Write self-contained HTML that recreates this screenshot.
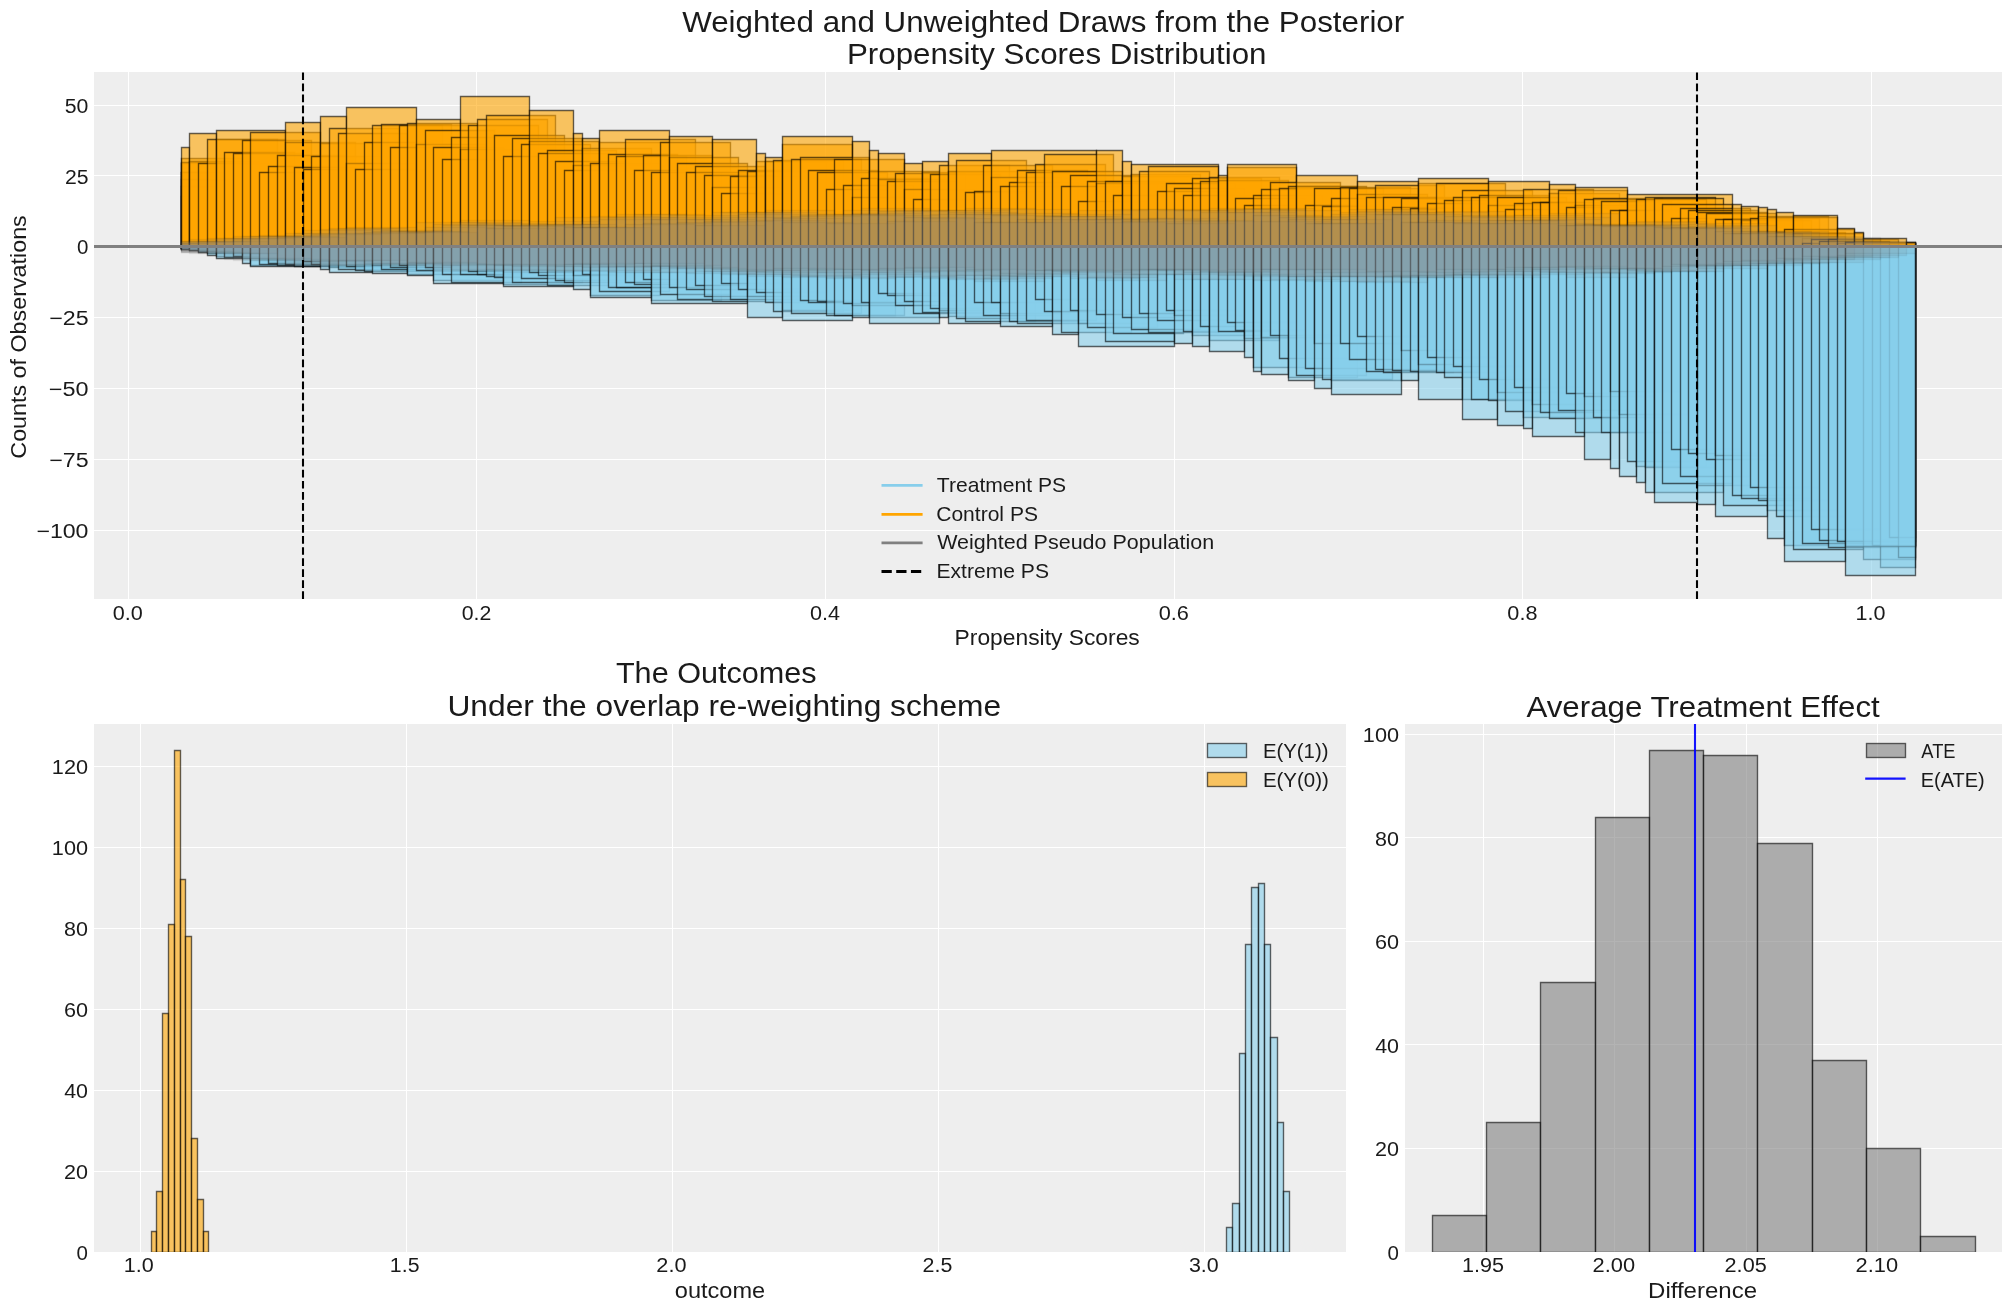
<!DOCTYPE html><html><head><meta charset="utf-8"><title>plot</title><style>html,body{margin:0;padding:0;background:#fff;overflow:hidden}svg{display:block;will-change:transform}text{font-family:"Liberation Sans",sans-serif;fill:#1a1a1a}</style></head><body>
<svg width="2011" height="1311" viewBox="0 0 2011 1311">
<rect width="2011" height="1311" fill="#fff"/>
<rect x="94" y="72" width="1908" height="527" fill="#eeeeee"/>
<path d="M128.5 72V599M476.5 72V599M825.5 72V599M1174.5 72V599M1522.5 72V599M1871.5 72V599M94 105.5H2002M94 175.5H2002M94 246.5H2002M94 317.5H2002M94 388.5H2002M94 459.5H2002M94 530.5H2002" stroke="#fff" stroke-width="1.1" fill="none"/>
<clipPath id="ct"><rect x="94" y="72" width="1908" height="527"/></clipPath>
<g clip-path="url(#ct)" stroke="#000" stroke-width="1.39">
<g fill="#87ceeb" fill-opacity="0.6" stroke-opacity="0.6">
<path d="M181.5 246.5H189.5V248.5H181.5Z"/>
<path d="M181.5 246.5H198.5V248.5H181.5Z"/>
<path d="M181.5 246.5H207.5V248.5H181.5Z"/>
<path d="M181.5 246.5H216.5V248.5H181.5Z"/>
<path d="M181.5 246.5H224.5V248.5H181.5Z"/>
<path d="M181.5 246.5H233.5V249.5H181.5Z"/>
<path d="M181.5 246.5H242.5V248.5H181.5Z"/>
<path d="M181.5 246.5H250.5V248.5H181.5Z"/>
<path d="M181.5 246.5H189.5V249.5H181.5Z"/>
<path d="M189.5 246.5H259.5V250.5H189.5Z"/>
<path d="M189.5 246.5H198.5V250.5H189.5Z"/>
<path d="M198.5 246.5H268.5V251.5H198.5Z"/>
<path d="M198.5 246.5H207.5V252.5H198.5Z"/>
<path d="M207.5 246.5H277.5V253.5H207.5Z"/>
<path d="M207.5 246.5H216.5V255.5H207.5Z"/>
<path d="M216.5 246.5H285.5V256.5H216.5Z"/>
<path d="M216.5 246.5H242.5V258.5H216.5Z"/>
<path d="M224.5 246.5H294.5V257.5H224.5Z"/>
<path d="M233.5 246.5H303.5V256.5H233.5Z"/>
<path d="M242.5 246.5H311.5V258.5H242.5Z"/>
<path d="M242.5 246.5H250.5V263.5H242.5Z"/>
<path d="M250.5 246.5H320.5V265.5H250.5Z"/>
<path d="M250.5 246.5H320.5V266.5H250.5Z"/>
<path d="M259.5 246.5H329.5V264.5H259.5Z"/>
<path d="M268.5 246.5H338.5V263.5H268.5Z"/>
<path d="M277.5 246.5H346.5V265.5H277.5Z"/>
<path d="M285.5 246.5H355.5V264.5H285.5Z"/>
<path d="M294.5 246.5H364.5V266.5H294.5Z"/>
<path d="M303.5 246.5H372.5V261.5H303.5Z"/>
<path d="M311.5 246.5H381.5V264.5H311.5Z"/>
<path d="M320.5 246.5H390.5V266.5H320.5Z"/>
<path d="M320.5 246.5H329.5V269.5H320.5Z"/>
<path d="M329.5 246.5H399.5V267.5H329.5Z"/>
<path d="M329.5 246.5H372.5V272.5H329.5Z"/>
<path d="M338.5 246.5H407.5V269.5H338.5Z"/>
<path d="M346.5 246.5H416.5V266.5H346.5Z"/>
<path d="M355.5 246.5H425.5V270.5H355.5Z"/>
<path d="M364.5 246.5H433.5V271.5H364.5Z"/>
<path d="M372.5 246.5H442.5V265.5H372.5Z"/>
<path d="M372.5 246.5H407.5V273.5H372.5Z"/>
<path d="M381.5 246.5H451.5V269.5H381.5Z"/>
<path d="M390.5 246.5H460.5V267.5H390.5Z"/>
<path d="M399.5 246.5H468.5V265.5H399.5Z"/>
<path d="M407.5 246.5H477.5V274.5H407.5Z"/>
<path d="M407.5 246.5H433.5V275.5H407.5Z"/>
<path d="M416.5 246.5H486.5V270.5H416.5Z"/>
<path d="M425.5 246.5H494.5V267.5H425.5Z"/>
<path d="M433.5 246.5H503.5V280.5H433.5Z"/>
<path d="M433.5 246.5H503.5V283.5H433.5Z"/>
<path d="M442.5 246.5H512.5V274.5H442.5Z"/>
<path d="M451.5 246.5H521.5V282.5H451.5Z"/>
<path d="M460.5 246.5H529.5V274.5H460.5Z"/>
<path d="M468.5 246.5H538.5V271.5H468.5Z"/>
<path d="M477.5 246.5H547.5V274.5H477.5Z"/>
<path d="M486.5 246.5H555.5V276.5H486.5Z"/>
<path d="M494.5 246.5H564.5V277.5H494.5Z"/>
<path d="M503.5 246.5H573.5V284.5H503.5Z"/>
<path d="M503.5 246.5H573.5V286.5H503.5Z"/>
<path d="M512.5 246.5H582.5V282.5H512.5Z"/>
<path d="M521.5 246.5H590.5V278.5H521.5Z"/>
<path d="M529.5 246.5H599.5V272.5H529.5Z"/>
<path d="M538.5 246.5H608.5V275.5H538.5Z"/>
<path d="M547.5 246.5H616.5V285.5H547.5Z"/>
<path d="M555.5 246.5H625.5V280.5H555.5Z"/>
<path d="M564.5 246.5H634.5V282.5H564.5Z"/>
<path d="M573.5 246.5H643.5V275.5H573.5Z"/>
<path d="M573.5 246.5H590.5V289.5H573.5Z"/>
<path d="M582.5 246.5H651.5V274.5H582.5Z"/>
<path d="M590.5 246.5H660.5V295.5H590.5Z"/>
<path d="M590.5 246.5H651.5V297.5H590.5Z"/>
<path d="M599.5 246.5H669.5V291.5H599.5Z"/>
<path d="M608.5 246.5H677.5V287.5H608.5Z"/>
<path d="M616.5 246.5H686.5V287.5H616.5Z"/>
<path d="M625.5 246.5H695.5V282.5H625.5Z"/>
<path d="M634.5 246.5H704.5V284.5H634.5Z"/>
<path d="M643.5 246.5H712.5V279.5H643.5Z"/>
<path d="M651.5 246.5H721.5V300.5H651.5Z"/>
<path d="M651.5 246.5H747.5V303.5H651.5Z"/>
<path d="M660.5 246.5H730.5V294.5H660.5Z"/>
<path d="M669.5 246.5H738.5V287.5H669.5Z"/>
<path d="M677.5 246.5H747.5V299.5H677.5Z"/>
<path d="M686.5 246.5H756.5V289.5H686.5Z"/>
<path d="M695.5 246.5H765.5V285.5H695.5Z"/>
<path d="M704.5 246.5H773.5V296.5H704.5Z"/>
<path d="M712.5 246.5H782.5V301.5H712.5Z"/>
<path d="M721.5 246.5H791.5V283.5H721.5Z"/>
<path d="M730.5 246.5H800.5V299.5H730.5Z"/>
<path d="M738.5 246.5H808.5V289.5H738.5Z"/>
<path d="M747.5 246.5H817.5V296.5H747.5Z"/>
<path d="M747.5 246.5H782.5V317.5H747.5Z"/>
<path d="M756.5 246.5H826.5V292.5H756.5Z"/>
<path d="M765.5 246.5H834.5V302.5H765.5Z"/>
<path d="M773.5 246.5H843.5V311.5H773.5Z"/>
<path d="M782.5 246.5H852.5V310.5H782.5Z"/>
<path d="M782.5 246.5H852.5V320.5H782.5Z"/>
<path d="M791.5 246.5H861.5V313.5H791.5Z"/>
<path d="M800.5 246.5H869.5V300.5H800.5Z"/>
<path d="M808.5 246.5H878.5V302.5H808.5Z"/>
<path d="M817.5 246.5H887.5V301.5H817.5Z"/>
<path d="M826.5 246.5H895.5V315.5H826.5Z"/>
<path d="M834.5 246.5H904.5V315.5H834.5Z"/>
<path d="M843.5 246.5H913.5V303.5H843.5Z"/>
<path d="M852.5 246.5H922.5V305.5H852.5Z"/>
<path d="M852.5 246.5H869.5V317.5H852.5Z"/>
<path d="M861.5 246.5H930.5V302.5H861.5Z"/>
<path d="M869.5 246.5H939.5V317.5H869.5Z"/>
<path d="M869.5 246.5H939.5V323.5H869.5Z"/>
<path d="M878.5 246.5H948.5V293.5H878.5Z"/>
<path d="M887.5 246.5H956.5V295.5H887.5Z"/>
<path d="M895.5 246.5H965.5V305.5H895.5Z"/>
<path d="M904.5 246.5H974.5V301.5H904.5Z"/>
<path d="M913.5 246.5H983.5V313.5H913.5Z"/>
<path d="M922.5 246.5H991.5V312.5H922.5Z"/>
<path d="M930.5 246.5H1000.5V308.5H930.5Z"/>
<path d="M939.5 246.5H1009.5V310.5H939.5Z"/>
<path d="M939.5 246.5H948.5V317.5H939.5Z"/>
<path d="M948.5 246.5H1017.5V316.5H948.5Z"/>
<path d="M948.5 246.5H1000.5V323.5H948.5Z"/>
<path d="M956.5 246.5H1026.5V318.5H956.5Z"/>
<path d="M965.5 246.5H1035.5V321.5H965.5Z"/>
<path d="M974.5 246.5H1044.5V302.5H974.5Z"/>
<path d="M983.5 246.5H1052.5V315.5H983.5Z"/>
<path d="M991.5 246.5H1061.5V302.5H991.5Z"/>
<path d="M1000.5 246.5H1070.5V313.5H1000.5Z"/>
<path d="M1000.5 246.5H1052.5V326.5H1000.5Z"/>
<path d="M1009.5 246.5H1078.5V321.5H1009.5Z"/>
<path d="M1017.5 246.5H1087.5V323.5H1017.5Z"/>
<path d="M1026.5 246.5H1096.5V320.5H1026.5Z"/>
<path d="M1035.5 246.5H1105.5V299.5H1035.5Z"/>
<path d="M1044.5 246.5H1113.5V311.5H1044.5Z"/>
<path d="M1052.5 246.5H1122.5V311.5H1052.5Z"/>
<path d="M1052.5 246.5H1078.5V334.5H1052.5Z"/>
<path d="M1061.5 246.5H1131.5V332.5H1061.5Z"/>
<path d="M1070.5 246.5H1139.5V310.5H1070.5Z"/>
<path d="M1078.5 246.5H1148.5V323.5H1078.5Z"/>
<path d="M1078.5 246.5H1174.5V346.5H1078.5Z"/>
<path d="M1087.5 246.5H1157.5V327.5H1087.5Z"/>
<path d="M1096.5 246.5H1166.5V314.5H1096.5Z"/>
<path d="M1105.5 246.5H1174.5V341.5H1105.5Z"/>
<path d="M1113.5 246.5H1183.5V333.5H1113.5Z"/>
<path d="M1122.5 246.5H1192.5V317.5H1122.5Z"/>
<path d="M1131.5 246.5H1200.5V329.5H1131.5Z"/>
<path d="M1139.5 246.5H1209.5V313.5H1139.5Z"/>
<path d="M1148.5 246.5H1218.5V332.5H1148.5Z"/>
<path d="M1157.5 246.5H1227.5V320.5H1157.5Z"/>
<path d="M1166.5 246.5H1235.5V310.5H1166.5Z"/>
<path d="M1174.5 246.5H1244.5V315.5H1174.5Z"/>
<path d="M1174.5 246.5H1192.5V343.5H1174.5Z"/>
<path d="M1183.5 246.5H1253.5V331.5H1183.5Z"/>
<path d="M1192.5 246.5H1261.5V335.5H1192.5Z"/>
<path d="M1192.5 246.5H1209.5V346.5H1192.5Z"/>
<path d="M1200.5 246.5H1270.5V326.5H1200.5Z"/>
<path d="M1209.5 246.5H1279.5V340.5H1209.5Z"/>
<path d="M1209.5 246.5H1244.5V351.5H1209.5Z"/>
<path d="M1218.5 246.5H1288.5V331.5H1218.5Z"/>
<path d="M1227.5 246.5H1296.5V322.5H1227.5Z"/>
<path d="M1235.5 246.5H1305.5V330.5H1235.5Z"/>
<path d="M1244.5 246.5H1314.5V338.5H1244.5Z"/>
<path d="M1244.5 246.5H1253.5V357.5H1244.5Z"/>
<path d="M1253.5 246.5H1322.5V367.5H1253.5Z"/>
<path d="M1253.5 246.5H1261.5V371.5H1253.5Z"/>
<path d="M1261.5 246.5H1331.5V337.5H1261.5Z"/>
<path d="M1261.5 246.5H1288.5V374.5H1261.5Z"/>
<path d="M1270.5 246.5H1340.5V335.5H1270.5Z"/>
<path d="M1279.5 246.5H1349.5V358.5H1279.5Z"/>
<path d="M1288.5 246.5H1357.5V377.5H1288.5Z"/>
<path d="M1288.5 246.5H1314.5V380.5H1288.5Z"/>
<path d="M1296.5 246.5H1366.5V375.5H1296.5Z"/>
<path d="M1305.5 246.5H1375.5V368.5H1305.5Z"/>
<path d="M1314.5 246.5H1383.5V343.5H1314.5Z"/>
<path d="M1314.5 246.5H1331.5V388.5H1314.5Z"/>
<path d="M1322.5 246.5H1392.5V379.5H1322.5Z"/>
<path d="M1331.5 246.5H1401.5V380.5H1331.5Z"/>
<path d="M1331.5 246.5H1401.5V394.5H1331.5Z"/>
<path d="M1340.5 246.5H1410.5V343.5H1340.5Z"/>
<path d="M1349.5 246.5H1418.5V359.5H1349.5Z"/>
<path d="M1357.5 246.5H1427.5V336.5H1357.5Z"/>
<path d="M1366.5 246.5H1436.5V371.5H1366.5Z"/>
<path d="M1375.5 246.5H1444.5V369.5H1375.5Z"/>
<path d="M1383.5 246.5H1453.5V372.5H1383.5Z"/>
<path d="M1392.5 246.5H1462.5V370.5H1392.5Z"/>
<path d="M1401.5 246.5H1471.5V350.5H1401.5Z"/>
<path d="M1401.5 246.5H1418.5V380.5H1401.5Z"/>
<path d="M1410.5 246.5H1479.5V371.5H1410.5Z"/>
<path d="M1418.5 246.5H1488.5V364.5H1418.5Z"/>
<path d="M1418.5 246.5H1462.5V399.5H1418.5Z"/>
<path d="M1427.5 246.5H1497.5V357.5H1427.5Z"/>
<path d="M1436.5 246.5H1505.5V372.5H1436.5Z"/>
<path d="M1444.5 246.5H1514.5V377.5H1444.5Z"/>
<path d="M1453.5 246.5H1523.5V366.5H1453.5Z"/>
<path d="M1462.5 246.5H1532.5V399.5H1462.5Z"/>
<path d="M1462.5 246.5H1497.5V419.5H1462.5Z"/>
<path d="M1471.5 246.5H1540.5V399.5H1471.5Z"/>
<path d="M1479.5 246.5H1549.5V379.5H1479.5Z"/>
<path d="M1488.5 246.5H1558.5V400.5H1488.5Z"/>
<path d="M1497.5 246.5H1566.5V392.5H1497.5Z"/>
<path d="M1497.5 246.5H1523.5V425.5H1497.5Z"/>
<path d="M1505.5 246.5H1575.5V411.5H1505.5Z"/>
<path d="M1514.5 246.5H1584.5V387.5H1514.5Z"/>
<path d="M1523.5 246.5H1593.5V417.5H1523.5Z"/>
<path d="M1523.5 246.5H1532.5V428.5H1523.5Z"/>
<path d="M1532.5 246.5H1601.5V404.5H1532.5Z"/>
<path d="M1532.5 246.5H1584.5V436.5H1532.5Z"/>
<path d="M1540.5 246.5H1610.5V412.5H1540.5Z"/>
<path d="M1549.5 246.5H1619.5V418.5H1549.5Z"/>
<path d="M1558.5 246.5H1627.5V410.5H1558.5Z"/>
<path d="M1566.5 246.5H1636.5V393.5H1566.5Z"/>
<path d="M1575.5 246.5H1645.5V432.5H1575.5Z"/>
<path d="M1584.5 246.5H1654.5V396.5H1584.5Z"/>
<path d="M1584.5 246.5H1610.5V459.5H1584.5Z"/>
<path d="M1593.5 246.5H1662.5V417.5H1593.5Z"/>
<path d="M1601.5 246.5H1671.5V432.5H1601.5Z"/>
<path d="M1610.5 246.5H1680.5V391.5H1610.5Z"/>
<path d="M1610.5 246.5H1619.5V468.5H1610.5Z"/>
<path d="M1619.5 246.5H1688.5V414.5H1619.5Z"/>
<path d="M1619.5 246.5H1636.5V476.5H1619.5Z"/>
<path d="M1627.5 246.5H1697.5V461.5H1627.5Z"/>
<path d="M1636.5 246.5H1706.5V466.5H1636.5Z"/>
<path d="M1636.5 246.5H1645.5V482.5H1636.5Z"/>
<path d="M1645.5 246.5H1715.5V467.5H1645.5Z"/>
<path d="M1645.5 246.5H1654.5V492.5H1645.5Z"/>
<path d="M1654.5 246.5H1723.5V492.5H1654.5Z"/>
<path d="M1654.5 246.5H1697.5V502.5H1654.5Z"/>
<path d="M1662.5 246.5H1732.5V483.5H1662.5Z"/>
<path d="M1671.5 246.5H1741.5V449.5H1671.5Z"/>
<path d="M1680.5 246.5H1750.5V476.5H1680.5Z"/>
<path d="M1688.5 246.5H1758.5V453.5H1688.5Z"/>
<path d="M1697.5 246.5H1767.5V485.5H1697.5Z"/>
<path d="M1697.5 246.5H1715.5V504.5H1697.5Z"/>
<path d="M1706.5 246.5H1776.5V459.5H1706.5Z"/>
<path d="M1715.5 246.5H1784.5V455.5H1715.5Z"/>
<path d="M1715.5 246.5H1767.5V516.5H1715.5Z"/>
<path d="M1723.5 246.5H1793.5V505.5H1723.5Z"/>
<path d="M1732.5 246.5H1802.5V495.5H1732.5Z"/>
<path d="M1741.5 246.5H1811.5V498.5H1741.5Z"/>
<path d="M1750.5 246.5H1819.5V487.5H1750.5Z"/>
<path d="M1758.5 246.5H1828.5V500.5H1758.5Z"/>
<path d="M1767.5 246.5H1837.5V510.5H1767.5Z"/>
<path d="M1767.5 246.5H1784.5V538.5H1767.5Z"/>
<path d="M1776.5 246.5H1845.5V516.5H1776.5Z"/>
<path d="M1784.5 246.5H1915.5V545.5H1784.5Z"/>
<path d="M1784.5 246.5H1845.5V561.5H1784.5Z"/>
<path d="M1793.5 246.5H1863.5V549.5H1793.5Z"/>
<path d="M1802.5 246.5H1872.5V543.5H1802.5Z"/>
<path d="M1811.5 246.5H1880.5V529.5H1811.5Z"/>
<path d="M1819.5 246.5H1889.5V540.5H1819.5Z"/>
<path d="M1828.5 246.5H1915.5V547.5H1828.5Z"/>
<path d="M1837.5 246.5H1915.5V541.5H1837.5Z"/>
<path d="M1863.5 246.5H1915.5V559.5H1863.5Z"/>
<path d="M1872.5 246.5H1915.5V545.5H1872.5Z"/>
<path d="M1880.5 246.5H1915.5V567.5H1880.5Z"/>
<path d="M1889.5 246.5H1915.5V537.5H1889.5Z"/>
<path d="M1898.5 246.5H1915.5V557.5H1898.5Z"/>
<path d="M1845.5 246.5H1915.5V546.5H1845.5Z"/>
<path d="M1845.5 246.5H1915.5V575.5H1845.5Z"/>
</g><g fill="#ffa500" fill-opacity="0.6" stroke-opacity="0.6">
<path d="M181.5 246.5H189.5V196.5H181.5Z"/>
<path d="M181.5 246.5H198.5V163.5H181.5Z"/>
<path d="M181.5 246.5H207.5V172.5H181.5Z"/>
<path d="M181.5 246.5H216.5V186.5H181.5Z"/>
<path d="M181.5 246.5H224.5V172.5H181.5Z"/>
<path d="M181.5 246.5H233.5V179.5H181.5Z"/>
<path d="M181.5 246.5H242.5V158.5H181.5Z"/>
<path d="M181.5 246.5H250.5V162.5H181.5Z"/>
<path d="M181.5 246.5H189.5V147.5H181.5Z"/>
<path d="M189.5 246.5H259.5V161.5H189.5Z"/>
<path d="M189.5 246.5H216.5V133.5H189.5Z"/>
<path d="M198.5 246.5H268.5V163.5H198.5Z"/>
<path d="M207.5 246.5H277.5V139.5H207.5Z"/>
<path d="M216.5 246.5H285.5V139.5H216.5Z"/>
<path d="M216.5 246.5H285.5V130.5H216.5Z"/>
<path d="M224.5 246.5H294.5V152.5H224.5Z"/>
<path d="M233.5 246.5H303.5V153.5H233.5Z"/>
<path d="M242.5 246.5H311.5V140.5H242.5Z"/>
<path d="M250.5 246.5H320.5V132.5H250.5Z"/>
<path d="M259.5 246.5H329.5V172.5H259.5Z"/>
<path d="M268.5 246.5H338.5V166.5H268.5Z"/>
<path d="M277.5 246.5H346.5V155.5H277.5Z"/>
<path d="M285.5 246.5H355.5V142.5H285.5Z"/>
<path d="M285.5 246.5H320.5V122.5H285.5Z"/>
<path d="M294.5 246.5H364.5V167.5H294.5Z"/>
<path d="M303.5 246.5H372.5V169.5H303.5Z"/>
<path d="M311.5 246.5H381.5V156.5H311.5Z"/>
<path d="M320.5 246.5H390.5V143.5H320.5Z"/>
<path d="M320.5 246.5H346.5V116.5H320.5Z"/>
<path d="M329.5 246.5H399.5V128.5H329.5Z"/>
<path d="M338.5 246.5H407.5V133.5H338.5Z"/>
<path d="M346.5 246.5H416.5V163.5H346.5Z"/>
<path d="M346.5 246.5H416.5V107.5H346.5Z"/>
<path d="M355.5 246.5H425.5V169.5H355.5Z"/>
<path d="M364.5 246.5H433.5V142.5H364.5Z"/>
<path d="M372.5 246.5H442.5V125.5H372.5Z"/>
<path d="M381.5 246.5H451.5V124.5H381.5Z"/>
<path d="M390.5 246.5H460.5V147.5H390.5Z"/>
<path d="M399.5 246.5H468.5V125.5H399.5Z"/>
<path d="M407.5 246.5H477.5V123.5H407.5Z"/>
<path d="M416.5 246.5H486.5V144.5H416.5Z"/>
<path d="M416.5 246.5H460.5V119.5H416.5Z"/>
<path d="M425.5 246.5H494.5V130.5H425.5Z"/>
<path d="M433.5 246.5H503.5V147.5H433.5Z"/>
<path d="M442.5 246.5H512.5V159.5H442.5Z"/>
<path d="M451.5 246.5H521.5V137.5H451.5Z"/>
<path d="M460.5 246.5H529.5V149.5H460.5Z"/>
<path d="M460.5 246.5H529.5V96.5H460.5Z"/>
<path d="M468.5 246.5H538.5V125.5H468.5Z"/>
<path d="M477.5 246.5H547.5V119.5H477.5Z"/>
<path d="M486.5 246.5H555.5V115.5H486.5Z"/>
<path d="M494.5 246.5H564.5V135.5H494.5Z"/>
<path d="M503.5 246.5H573.5V156.5H503.5Z"/>
<path d="M512.5 246.5H582.5V138.5H512.5Z"/>
<path d="M521.5 246.5H590.5V144.5H521.5Z"/>
<path d="M529.5 246.5H599.5V141.5H529.5Z"/>
<path d="M529.5 246.5H573.5V110.5H529.5Z"/>
<path d="M538.5 246.5H608.5V153.5H538.5Z"/>
<path d="M547.5 246.5H616.5V150.5H547.5Z"/>
<path d="M555.5 246.5H625.5V161.5H555.5Z"/>
<path d="M564.5 246.5H634.5V170.5H564.5Z"/>
<path d="M573.5 246.5H643.5V165.5H573.5Z"/>
<path d="M573.5 246.5H582.5V133.5H573.5Z"/>
<path d="M582.5 246.5H651.5V148.5H582.5Z"/>
<path d="M582.5 246.5H599.5V138.5H582.5Z"/>
<path d="M590.5 246.5H660.5V163.5H590.5Z"/>
<path d="M599.5 246.5H669.5V142.5H599.5Z"/>
<path d="M599.5 246.5H669.5V130.5H599.5Z"/>
<path d="M608.5 246.5H677.5V154.5H608.5Z"/>
<path d="M616.5 246.5H686.5V156.5H616.5Z"/>
<path d="M625.5 246.5H695.5V139.5H625.5Z"/>
<path d="M634.5 246.5H704.5V170.5H634.5Z"/>
<path d="M643.5 246.5H712.5V155.5H643.5Z"/>
<path d="M651.5 246.5H721.5V172.5H651.5Z"/>
<path d="M660.5 246.5H730.5V142.5H660.5Z"/>
<path d="M669.5 246.5H738.5V157.5H669.5Z"/>
<path d="M669.5 246.5H712.5V136.5H669.5Z"/>
<path d="M677.5 246.5H747.5V163.5H677.5Z"/>
<path d="M686.5 246.5H756.5V172.5H686.5Z"/>
<path d="M695.5 246.5H765.5V166.5H695.5Z"/>
<path d="M704.5 246.5H773.5V175.5H704.5Z"/>
<path d="M712.5 246.5H782.5V187.5H712.5Z"/>
<path d="M712.5 246.5H756.5V139.5H712.5Z"/>
<path d="M721.5 246.5H791.5V193.5H721.5Z"/>
<path d="M730.5 246.5H800.5V176.5H730.5Z"/>
<path d="M738.5 246.5H808.5V170.5H738.5Z"/>
<path d="M747.5 246.5H817.5V171.5H747.5Z"/>
<path d="M756.5 246.5H826.5V161.5H756.5Z"/>
<path d="M756.5 246.5H765.5V153.5H756.5Z"/>
<path d="M765.5 246.5H834.5V161.5H765.5Z"/>
<path d="M765.5 246.5H782.5V157.5H765.5Z"/>
<path d="M773.5 246.5H843.5V160.5H773.5Z"/>
<path d="M782.5 246.5H852.5V144.5H782.5Z"/>
<path d="M782.5 246.5H852.5V136.5H782.5Z"/>
<path d="M791.5 246.5H861.5V159.5H791.5Z"/>
<path d="M800.5 246.5H869.5V157.5H800.5Z"/>
<path d="M808.5 246.5H878.5V170.5H808.5Z"/>
<path d="M817.5 246.5H887.5V172.5H817.5Z"/>
<path d="M826.5 246.5H895.5V189.5H826.5Z"/>
<path d="M834.5 246.5H904.5V159.5H834.5Z"/>
<path d="M843.5 246.5H913.5V185.5H843.5Z"/>
<path d="M852.5 246.5H922.5V197.5H852.5Z"/>
<path d="M852.5 246.5H869.5V141.5H852.5Z"/>
<path d="M861.5 246.5H930.5V178.5H861.5Z"/>
<path d="M869.5 246.5H939.5V171.5H869.5Z"/>
<path d="M869.5 246.5H878.5V150.5H869.5Z"/>
<path d="M878.5 246.5H948.5V179.5H878.5Z"/>
<path d="M878.5 246.5H904.5V153.5H878.5Z"/>
<path d="M887.5 246.5H956.5V181.5H887.5Z"/>
<path d="M895.5 246.5H965.5V173.5H895.5Z"/>
<path d="M904.5 246.5H974.5V189.5H904.5Z"/>
<path d="M904.5 246.5H922.5V163.5H904.5Z"/>
<path d="M913.5 246.5H983.5V199.5H913.5Z"/>
<path d="M922.5 246.5H991.5V172.5H922.5Z"/>
<path d="M922.5 246.5H948.5V161.5H922.5Z"/>
<path d="M930.5 246.5H1000.5V174.5H930.5Z"/>
<path d="M939.5 246.5H1009.5V165.5H939.5Z"/>
<path d="M948.5 246.5H1017.5V171.5H948.5Z"/>
<path d="M948.5 246.5H991.5V153.5H948.5Z"/>
<path d="M956.5 246.5H1026.5V160.5H956.5Z"/>
<path d="M965.5 246.5H1035.5V192.5H965.5Z"/>
<path d="M974.5 246.5H1044.5V191.5H974.5Z"/>
<path d="M983.5 246.5H1052.5V165.5H983.5Z"/>
<path d="M991.5 246.5H1061.5V177.5H991.5Z"/>
<path d="M991.5 246.5H1096.5V150.5H991.5Z"/>
<path d="M1000.5 246.5H1070.5V186.5H1000.5Z"/>
<path d="M1009.5 246.5H1078.5V182.5H1009.5Z"/>
<path d="M1017.5 246.5H1087.5V170.5H1017.5Z"/>
<path d="M1026.5 246.5H1096.5V172.5H1026.5Z"/>
<path d="M1035.5 246.5H1105.5V164.5H1035.5Z"/>
<path d="M1044.5 246.5H1113.5V154.5H1044.5Z"/>
<path d="M1052.5 246.5H1122.5V171.5H1052.5Z"/>
<path d="M1061.5 246.5H1131.5V186.5H1061.5Z"/>
<path d="M1070.5 246.5H1139.5V175.5H1070.5Z"/>
<path d="M1078.5 246.5H1148.5V201.5H1078.5Z"/>
<path d="M1087.5 246.5H1157.5V181.5H1087.5Z"/>
<path d="M1096.5 246.5H1166.5V183.5H1096.5Z"/>
<path d="M1096.5 246.5H1122.5V150.5H1096.5Z"/>
<path d="M1105.5 246.5H1174.5V181.5H1105.5Z"/>
<path d="M1113.5 246.5H1183.5V195.5H1113.5Z"/>
<path d="M1122.5 246.5H1192.5V176.5H1122.5Z"/>
<path d="M1122.5 246.5H1131.5V161.5H1122.5Z"/>
<path d="M1131.5 246.5H1200.5V174.5H1131.5Z"/>
<path d="M1131.5 246.5H1218.5V164.5H1131.5Z"/>
<path d="M1139.5 246.5H1209.5V171.5H1139.5Z"/>
<path d="M1148.5 246.5H1218.5V166.5H1148.5Z"/>
<path d="M1157.5 246.5H1227.5V191.5H1157.5Z"/>
<path d="M1166.5 246.5H1235.5V183.5H1166.5Z"/>
<path d="M1174.5 246.5H1244.5V188.5H1174.5Z"/>
<path d="M1183.5 246.5H1253.5V195.5H1183.5Z"/>
<path d="M1192.5 246.5H1261.5V178.5H1192.5Z"/>
<path d="M1200.5 246.5H1270.5V181.5H1200.5Z"/>
<path d="M1209.5 246.5H1279.5V177.5H1209.5Z"/>
<path d="M1218.5 246.5H1288.5V180.5H1218.5Z"/>
<path d="M1218.5 246.5H1227.5V175.5H1218.5Z"/>
<path d="M1227.5 246.5H1296.5V167.5H1227.5Z"/>
<path d="M1227.5 246.5H1296.5V164.5H1227.5Z"/>
<path d="M1235.5 246.5H1305.5V198.5H1235.5Z"/>
<path d="M1244.5 246.5H1314.5V205.5H1244.5Z"/>
<path d="M1253.5 246.5H1322.5V195.5H1253.5Z"/>
<path d="M1261.5 246.5H1331.5V189.5H1261.5Z"/>
<path d="M1270.5 246.5H1340.5V182.5H1270.5Z"/>
<path d="M1279.5 246.5H1349.5V188.5H1279.5Z"/>
<path d="M1288.5 246.5H1357.5V186.5H1288.5Z"/>
<path d="M1296.5 246.5H1366.5V186.5H1296.5Z"/>
<path d="M1296.5 246.5H1357.5V175.5H1296.5Z"/>
<path d="M1305.5 246.5H1375.5V205.5H1305.5Z"/>
<path d="M1314.5 246.5H1383.5V188.5H1314.5Z"/>
<path d="M1322.5 246.5H1392.5V206.5H1322.5Z"/>
<path d="M1331.5 246.5H1401.5V198.5H1331.5Z"/>
<path d="M1340.5 246.5H1410.5V187.5H1340.5Z"/>
<path d="M1349.5 246.5H1418.5V188.5H1349.5Z"/>
<path d="M1357.5 246.5H1427.5V194.5H1357.5Z"/>
<path d="M1357.5 246.5H1418.5V181.5H1357.5Z"/>
<path d="M1366.5 246.5H1436.5V197.5H1366.5Z"/>
<path d="M1375.5 246.5H1444.5V185.5H1375.5Z"/>
<path d="M1383.5 246.5H1453.5V197.5H1383.5Z"/>
<path d="M1392.5 246.5H1462.5V207.5H1392.5Z"/>
<path d="M1401.5 246.5H1471.5V198.5H1401.5Z"/>
<path d="M1410.5 246.5H1479.5V208.5H1410.5Z"/>
<path d="M1418.5 246.5H1488.5V183.5H1418.5Z"/>
<path d="M1418.5 246.5H1488.5V178.5H1418.5Z"/>
<path d="M1427.5 246.5H1497.5V203.5H1427.5Z"/>
<path d="M1436.5 246.5H1505.5V183.5H1436.5Z"/>
<path d="M1444.5 246.5H1514.5V200.5H1444.5Z"/>
<path d="M1453.5 246.5H1523.5V197.5H1453.5Z"/>
<path d="M1462.5 246.5H1532.5V190.5H1462.5Z"/>
<path d="M1471.5 246.5H1540.5V197.5H1471.5Z"/>
<path d="M1479.5 246.5H1549.5V195.5H1479.5Z"/>
<path d="M1488.5 246.5H1558.5V205.5H1488.5Z"/>
<path d="M1488.5 246.5H1549.5V181.5H1488.5Z"/>
<path d="M1497.5 246.5H1566.5V197.5H1497.5Z"/>
<path d="M1505.5 246.5H1575.5V209.5H1505.5Z"/>
<path d="M1514.5 246.5H1584.5V203.5H1514.5Z"/>
<path d="M1523.5 246.5H1593.5V189.5H1523.5Z"/>
<path d="M1532.5 246.5H1601.5V202.5H1532.5Z"/>
<path d="M1540.5 246.5H1610.5V202.5H1540.5Z"/>
<path d="M1549.5 246.5H1619.5V193.5H1549.5Z"/>
<path d="M1549.5 246.5H1575.5V184.5H1549.5Z"/>
<path d="M1558.5 246.5H1627.5V190.5H1558.5Z"/>
<path d="M1566.5 246.5H1636.5V207.5H1566.5Z"/>
<path d="M1575.5 246.5H1645.5V205.5H1575.5Z"/>
<path d="M1575.5 246.5H1627.5V187.5H1575.5Z"/>
<path d="M1584.5 246.5H1654.5V199.5H1584.5Z"/>
<path d="M1593.5 246.5H1662.5V198.5H1593.5Z"/>
<path d="M1601.5 246.5H1671.5V201.5H1601.5Z"/>
<path d="M1610.5 246.5H1680.5V210.5H1610.5Z"/>
<path d="M1619.5 246.5H1688.5V210.5H1619.5Z"/>
<path d="M1627.5 246.5H1697.5V199.5H1627.5Z"/>
<path d="M1627.5 246.5H1732.5V194.5H1627.5Z"/>
<path d="M1636.5 246.5H1706.5V199.5H1636.5Z"/>
<path d="M1645.5 246.5H1715.5V197.5H1645.5Z"/>
<path d="M1654.5 246.5H1723.5V198.5H1654.5Z"/>
<path d="M1662.5 246.5H1732.5V204.5H1662.5Z"/>
<path d="M1671.5 246.5H1741.5V218.5H1671.5Z"/>
<path d="M1680.5 246.5H1750.5V208.5H1680.5Z"/>
<path d="M1688.5 246.5H1758.5V210.5H1688.5Z"/>
<path d="M1697.5 246.5H1767.5V212.5H1697.5Z"/>
<path d="M1706.5 246.5H1776.5V213.5H1706.5Z"/>
<path d="M1715.5 246.5H1784.5V219.5H1715.5Z"/>
<path d="M1723.5 246.5H1793.5V219.5H1723.5Z"/>
<path d="M1732.5 246.5H1802.5V219.5H1732.5Z"/>
<path d="M1732.5 246.5H1741.5V204.5H1732.5Z"/>
<path d="M1741.5 246.5H1811.5V220.5H1741.5Z"/>
<path d="M1741.5 246.5H1758.5V206.5H1741.5Z"/>
<path d="M1750.5 246.5H1819.5V218.5H1750.5Z"/>
<path d="M1758.5 246.5H1828.5V216.5H1758.5Z"/>
<path d="M1758.5 246.5H1767.5V207.5H1758.5Z"/>
<path d="M1767.5 246.5H1837.5V217.5H1767.5Z"/>
<path d="M1767.5 246.5H1776.5V209.5H1767.5Z"/>
<path d="M1776.5 246.5H1845.5V232.5H1776.5Z"/>
<path d="M1776.5 246.5H1793.5V212.5H1776.5Z"/>
<path d="M1784.5 246.5H1854.5V229.5H1784.5Z"/>
<path d="M1793.5 246.5H1863.5V233.5H1793.5Z"/>
<path d="M1793.5 246.5H1837.5V215.5H1793.5Z"/>
<path d="M1802.5 246.5H1915.5V243.5H1802.5Z"/>
<path d="M1811.5 246.5H1880.5V239.5H1811.5Z"/>
<path d="M1819.5 246.5H1889.5V241.5H1819.5Z"/>
<path d="M1828.5 246.5H1898.5V239.5H1828.5Z"/>
<path d="M1837.5 246.5H1915.5V243.5H1837.5Z"/>
<path d="M1837.5 246.5H1854.5V228.5H1837.5Z"/>
<path d="M1854.5 246.5H1915.5V243.5H1854.5Z"/>
<path d="M1863.5 246.5H1915.5V243.5H1863.5Z"/>
<path d="M1889.5 246.5H1915.5V243.5H1889.5Z"/>
<path d="M1845.5 246.5H1915.5V242.5H1845.5Z"/>
<path d="M1854.5 246.5H1863.5V232.5H1854.5Z"/>
<path d="M1863.5 246.5H1906.5V238.5H1863.5Z"/>
<path d="M1906.5 246.5H1915.5V242.5H1906.5Z"/>
</g><g fill="#808080" fill-opacity="0.105" stroke-opacity="0.06">
<path d="M181.5 246.5H189.5V244.5H181.5Z"/>
<path d="M181.5 246.5H198.5V243.5H181.5Z"/>
<path d="M181.5 246.5H207.5V243.5H181.5Z"/>
<path d="M181.5 246.5H216.5V243.5H181.5Z"/>
<path d="M181.5 246.5H224.5V241.5H181.5Z"/>
<path d="M181.5 246.5H233.5V242.5H181.5Z"/>
<path d="M181.5 246.5H242.5V241.5H181.5Z"/>
<path d="M181.5 246.5H250.5V241.5H181.5Z"/>
<path d="M189.5 246.5H259.5V239.5H189.5Z"/>
<path d="M198.5 246.5H268.5V241.5H198.5Z"/>
<path d="M207.5 246.5H277.5V238.5H207.5Z"/>
<path d="M216.5 246.5H285.5V238.5H216.5Z"/>
<path d="M224.5 246.5H294.5V238.5H224.5Z"/>
<path d="M233.5 246.5H303.5V236.5H233.5Z"/>
<path d="M242.5 246.5H311.5V236.5H242.5Z"/>
<path d="M250.5 246.5H320.5V236.5H250.5Z"/>
<path d="M259.5 246.5H329.5V235.5H259.5Z"/>
<path d="M268.5 246.5H338.5V236.5H268.5Z"/>
<path d="M277.5 246.5H346.5V237.5H277.5Z"/>
<path d="M285.5 246.5H355.5V233.5H285.5Z"/>
<path d="M294.5 246.5H364.5V233.5H294.5Z"/>
<path d="M303.5 246.5H372.5V230.5H303.5Z"/>
<path d="M311.5 246.5H381.5V234.5H311.5Z"/>
<path d="M320.5 246.5H390.5V229.5H320.5Z"/>
<path d="M329.5 246.5H399.5V228.5H329.5Z"/>
<path d="M338.5 246.5H407.5V228.5H338.5Z"/>
<path d="M346.5 246.5H416.5V227.5H346.5Z"/>
<path d="M355.5 246.5H425.5V233.5H355.5Z"/>
<path d="M364.5 246.5H433.5V232.5H364.5Z"/>
<path d="M372.5 246.5H442.5V231.5H372.5Z"/>
<path d="M381.5 246.5H451.5V230.5H381.5Z"/>
<path d="M390.5 246.5H460.5V231.5H390.5Z"/>
<path d="M399.5 246.5H468.5V231.5H399.5Z"/>
<path d="M407.5 246.5H477.5V232.5H407.5Z"/>
<path d="M416.5 246.5H486.5V222.5H416.5Z"/>
<path d="M425.5 246.5H494.5V227.5H425.5Z"/>
<path d="M433.5 246.5H503.5V224.5H433.5Z"/>
<path d="M442.5 246.5H512.5V225.5H442.5Z"/>
<path d="M451.5 246.5H521.5V222.5H451.5Z"/>
<path d="M460.5 246.5H529.5V220.5H460.5Z"/>
<path d="M468.5 246.5H538.5V225.5H468.5Z"/>
<path d="M477.5 246.5H547.5V223.5H477.5Z"/>
<path d="M486.5 246.5H555.5V228.5H486.5Z"/>
<path d="M494.5 246.5H564.5V225.5H494.5Z"/>
<path d="M503.5 246.5H573.5V226.5H503.5Z"/>
<path d="M512.5 246.5H582.5V225.5H512.5Z"/>
<path d="M521.5 246.5H590.5V224.5H521.5Z"/>
<path d="M529.5 246.5H599.5V221.5H529.5Z"/>
<path d="M538.5 246.5H608.5V224.5H538.5Z"/>
<path d="M547.5 246.5H616.5V224.5H547.5Z"/>
<path d="M555.5 246.5H625.5V217.5H555.5Z"/>
<path d="M564.5 246.5H634.5V227.5H564.5Z"/>
<path d="M573.5 246.5H643.5V227.5H573.5Z"/>
<path d="M582.5 246.5H651.5V227.5H582.5Z"/>
<path d="M590.5 246.5H660.5V216.5H590.5Z"/>
<path d="M599.5 246.5H669.5V219.5H599.5Z"/>
<path d="M608.5 246.5H677.5V217.5H608.5Z"/>
<path d="M616.5 246.5H686.5V214.5H616.5Z"/>
<path d="M625.5 246.5H695.5V224.5H625.5Z"/>
<path d="M634.5 246.5H704.5V214.5H634.5Z"/>
<path d="M643.5 246.5H712.5V223.5H643.5Z"/>
<path d="M651.5 246.5H721.5V219.5H651.5Z"/>
<path d="M660.5 246.5H730.5V217.5H660.5Z"/>
<path d="M669.5 246.5H738.5V215.5H669.5Z"/>
<path d="M677.5 246.5H747.5V222.5H677.5Z"/>
<path d="M686.5 246.5H756.5V219.5H686.5Z"/>
<path d="M695.5 246.5H765.5V225.5H695.5Z"/>
<path d="M704.5 246.5H773.5V221.5H704.5Z"/>
<path d="M712.5 246.5H782.5V212.5H712.5Z"/>
<path d="M721.5 246.5H791.5V212.5H721.5Z"/>
<path d="M730.5 246.5H800.5V217.5H730.5Z"/>
<path d="M738.5 246.5H808.5V214.5H738.5Z"/>
<path d="M747.5 246.5H817.5V212.5H747.5Z"/>
<path d="M756.5 246.5H826.5V220.5H756.5Z"/>
<path d="M765.5 246.5H834.5V210.5H765.5Z"/>
<path d="M773.5 246.5H843.5V218.5H773.5Z"/>
<path d="M782.5 246.5H852.5V222.5H782.5Z"/>
<path d="M791.5 246.5H861.5V216.5H791.5Z"/>
<path d="M800.5 246.5H869.5V215.5H800.5Z"/>
<path d="M808.5 246.5H878.5V214.5H808.5Z"/>
<path d="M817.5 246.5H887.5V214.5H817.5Z"/>
<path d="M826.5 246.5H895.5V223.5H826.5Z"/>
<path d="M834.5 246.5H904.5V214.5H834.5Z"/>
<path d="M843.5 246.5H913.5V210.5H843.5Z"/>
<path d="M852.5 246.5H922.5V213.5H852.5Z"/>
<path d="M861.5 246.5H930.5V208.5H861.5Z"/>
<path d="M869.5 246.5H939.5V215.5H869.5Z"/>
<path d="M878.5 246.5H948.5V211.5H878.5Z"/>
<path d="M887.5 246.5H956.5V221.5H887.5Z"/>
<path d="M895.5 246.5H965.5V210.5H895.5Z"/>
<path d="M904.5 246.5H974.5V217.5H904.5Z"/>
<path d="M913.5 246.5H983.5V210.5H913.5Z"/>
<path d="M922.5 246.5H991.5V218.5H922.5Z"/>
<path d="M930.5 246.5H1000.5V214.5H930.5Z"/>
<path d="M939.5 246.5H1009.5V210.5H939.5Z"/>
<path d="M948.5 246.5H1017.5V212.5H948.5Z"/>
<path d="M956.5 246.5H1026.5V214.5H956.5Z"/>
<path d="M965.5 246.5H1035.5V208.5H965.5Z"/>
<path d="M974.5 246.5H1044.5V222.5H974.5Z"/>
<path d="M983.5 246.5H1052.5V222.5H983.5Z"/>
<path d="M991.5 246.5H1061.5V215.5H991.5Z"/>
<path d="M1000.5 246.5H1070.5V209.5H1000.5Z"/>
<path d="M1009.5 246.5H1078.5V213.5H1009.5Z"/>
<path d="M1017.5 246.5H1087.5V219.5H1017.5Z"/>
<path d="M1026.5 246.5H1096.5V222.5H1026.5Z"/>
<path d="M1035.5 246.5H1105.5V216.5H1035.5Z"/>
<path d="M1044.5 246.5H1113.5V216.5H1044.5Z"/>
<path d="M1052.5 246.5H1122.5V216.5H1052.5Z"/>
<path d="M1061.5 246.5H1131.5V214.5H1061.5Z"/>
<path d="M1070.5 246.5H1139.5V219.5H1070.5Z"/>
<path d="M1078.5 246.5H1148.5V210.5H1078.5Z"/>
<path d="M1087.5 246.5H1157.5V219.5H1087.5Z"/>
<path d="M1096.5 246.5H1166.5V222.5H1096.5Z"/>
<path d="M1105.5 246.5H1174.5V218.5H1105.5Z"/>
<path d="M1113.5 246.5H1183.5V209.5H1113.5Z"/>
<path d="M1122.5 246.5H1192.5V221.5H1122.5Z"/>
<path d="M1131.5 246.5H1200.5V219.5H1131.5Z"/>
<path d="M1139.5 246.5H1209.5V209.5H1139.5Z"/>
<path d="M1148.5 246.5H1218.5V218.5H1148.5Z"/>
<path d="M1157.5 246.5H1227.5V210.5H1157.5Z"/>
<path d="M1166.5 246.5H1235.5V223.5H1166.5Z"/>
<path d="M1174.5 246.5H1244.5V210.5H1174.5Z"/>
<path d="M1183.5 246.5H1253.5V220.5H1183.5Z"/>
<path d="M1192.5 246.5H1261.5V221.5H1192.5Z"/>
<path d="M1200.5 246.5H1270.5V212.5H1200.5Z"/>
<path d="M1209.5 246.5H1279.5V208.5H1209.5Z"/>
<path d="M1218.5 246.5H1288.5V209.5H1218.5Z"/>
<path d="M1227.5 246.5H1296.5V212.5H1227.5Z"/>
<path d="M1235.5 246.5H1305.5V209.5H1235.5Z"/>
<path d="M1244.5 246.5H1314.5V208.5H1244.5Z"/>
<path d="M1253.5 246.5H1322.5V215.5H1253.5Z"/>
<path d="M1261.5 246.5H1331.5V221.5H1261.5Z"/>
<path d="M1270.5 246.5H1340.5V210.5H1270.5Z"/>
<path d="M1279.5 246.5H1349.5V217.5H1279.5Z"/>
<path d="M1288.5 246.5H1357.5V219.5H1288.5Z"/>
<path d="M1296.5 246.5H1366.5V216.5H1296.5Z"/>
<path d="M1305.5 246.5H1375.5V223.5H1305.5Z"/>
<path d="M1314.5 246.5H1383.5V223.5H1314.5Z"/>
<path d="M1322.5 246.5H1392.5V219.5H1322.5Z"/>
<path d="M1331.5 246.5H1401.5V214.5H1331.5Z"/>
<path d="M1340.5 246.5H1410.5V212.5H1340.5Z"/>
<path d="M1349.5 246.5H1418.5V209.5H1349.5Z"/>
<path d="M1357.5 246.5H1427.5V211.5H1357.5Z"/>
<path d="M1366.5 246.5H1436.5V209.5H1366.5Z"/>
<path d="M1375.5 246.5H1444.5V214.5H1375.5Z"/>
<path d="M1383.5 246.5H1453.5V212.5H1383.5Z"/>
<path d="M1392.5 246.5H1462.5V214.5H1392.5Z"/>
<path d="M1401.5 246.5H1471.5V222.5H1401.5Z"/>
<path d="M1410.5 246.5H1479.5V222.5H1410.5Z"/>
<path d="M1418.5 246.5H1488.5V212.5H1418.5Z"/>
<path d="M1427.5 246.5H1497.5V220.5H1427.5Z"/>
<path d="M1436.5 246.5H1505.5V211.5H1436.5Z"/>
<path d="M1444.5 246.5H1514.5V216.5H1444.5Z"/>
<path d="M1453.5 246.5H1523.5V223.5H1453.5Z"/>
<path d="M1462.5 246.5H1532.5V215.5H1462.5Z"/>
<path d="M1471.5 246.5H1540.5V217.5H1471.5Z"/>
<path d="M1479.5 246.5H1549.5V223.5H1479.5Z"/>
<path d="M1488.5 246.5H1558.5V220.5H1488.5Z"/>
<path d="M1497.5 246.5H1566.5V220.5H1497.5Z"/>
<path d="M1505.5 246.5H1575.5V220.5H1505.5Z"/>
<path d="M1514.5 246.5H1584.5V215.5H1514.5Z"/>
<path d="M1523.5 246.5H1593.5V223.5H1523.5Z"/>
<path d="M1532.5 246.5H1601.5V219.5H1532.5Z"/>
<path d="M1540.5 246.5H1610.5V217.5H1540.5Z"/>
<path d="M1549.5 246.5H1619.5V213.5H1549.5Z"/>
<path d="M1558.5 246.5H1627.5V225.5H1558.5Z"/>
<path d="M1566.5 246.5H1636.5V225.5H1566.5Z"/>
<path d="M1575.5 246.5H1645.5V224.5H1575.5Z"/>
<path d="M1584.5 246.5H1654.5V224.5H1584.5Z"/>
<path d="M1593.5 246.5H1662.5V225.5H1593.5Z"/>
<path d="M1601.5 246.5H1671.5V226.5H1601.5Z"/>
<path d="M1610.5 246.5H1680.5V225.5H1610.5Z"/>
<path d="M1619.5 246.5H1688.5V225.5H1619.5Z"/>
<path d="M1627.5 246.5H1697.5V222.5H1627.5Z"/>
<path d="M1636.5 246.5H1706.5V221.5H1636.5Z"/>
<path d="M1645.5 246.5H1715.5V224.5H1645.5Z"/>
<path d="M1654.5 246.5H1723.5V227.5H1654.5Z"/>
<path d="M1662.5 246.5H1732.5V228.5H1662.5Z"/>
<path d="M1671.5 246.5H1741.5V227.5H1671.5Z"/>
<path d="M1680.5 246.5H1750.5V228.5H1680.5Z"/>
<path d="M1688.5 246.5H1758.5V226.5H1688.5Z"/>
<path d="M1697.5 246.5H1767.5V223.5H1697.5Z"/>
<path d="M1706.5 246.5H1776.5V225.5H1706.5Z"/>
<path d="M1715.5 246.5H1784.5V231.5H1715.5Z"/>
<path d="M1723.5 246.5H1793.5V233.5H1723.5Z"/>
<path d="M1732.5 246.5H1802.5V233.5H1732.5Z"/>
<path d="M1741.5 246.5H1811.5V231.5H1741.5Z"/>
<path d="M1750.5 246.5H1819.5V232.5H1750.5Z"/>
<path d="M1758.5 246.5H1828.5V231.5H1758.5Z"/>
<path d="M1767.5 246.5H1837.5V236.5H1767.5Z"/>
<path d="M1776.5 246.5H1845.5V236.5H1776.5Z"/>
<path d="M1784.5 246.5H1854.5V234.5H1784.5Z"/>
<path d="M1793.5 246.5H1863.5V236.5H1793.5Z"/>
<path d="M1802.5 246.5H1872.5V238.5H1802.5Z"/>
<path d="M1811.5 246.5H1880.5V237.5H1811.5Z"/>
<path d="M1819.5 246.5H1889.5V241.5H1819.5Z"/>
<path d="M1828.5 246.5H1898.5V241.5H1828.5Z"/>
<path d="M1837.5 246.5H1906.5V241.5H1837.5Z"/>
<path d="M1845.5 246.5H1915.5V241.5H1845.5Z"/>
<path d="M181.5 246.5H189.5V250.5H181.5Z"/>
<path d="M181.5 246.5H198.5V250.5H181.5Z"/>
<path d="M181.5 246.5H207.5V250.5H181.5Z"/>
<path d="M181.5 246.5H216.5V251.5H181.5Z"/>
<path d="M181.5 246.5H224.5V252.5H181.5Z"/>
<path d="M181.5 246.5H233.5V251.5H181.5Z"/>
<path d="M181.5 246.5H242.5V252.5H181.5Z"/>
<path d="M181.5 246.5H250.5V252.5H181.5Z"/>
<path d="M189.5 246.5H259.5V253.5H189.5Z"/>
<path d="M198.5 246.5H268.5V253.5H198.5Z"/>
<path d="M207.5 246.5H277.5V253.5H207.5Z"/>
<path d="M216.5 246.5H285.5V258.5H216.5Z"/>
<path d="M224.5 246.5H294.5V259.5H224.5Z"/>
<path d="M233.5 246.5H303.5V260.5H233.5Z"/>
<path d="M242.5 246.5H311.5V258.5H242.5Z"/>
<path d="M250.5 246.5H320.5V260.5H250.5Z"/>
<path d="M259.5 246.5H329.5V259.5H259.5Z"/>
<path d="M268.5 246.5H338.5V263.5H268.5Z"/>
<path d="M277.5 246.5H346.5V265.5H277.5Z"/>
<path d="M285.5 246.5H355.5V265.5H285.5Z"/>
<path d="M294.5 246.5H364.5V266.5H294.5Z"/>
<path d="M303.5 246.5H372.5V261.5H303.5Z"/>
<path d="M311.5 246.5H381.5V265.5H311.5Z"/>
<path d="M320.5 246.5H390.5V260.5H320.5Z"/>
<path d="M329.5 246.5H399.5V264.5H329.5Z"/>
<path d="M338.5 246.5H407.5V260.5H338.5Z"/>
<path d="M346.5 246.5H416.5V264.5H346.5Z"/>
<path d="M355.5 246.5H425.5V265.5H355.5Z"/>
<path d="M364.5 246.5H433.5V263.5H364.5Z"/>
<path d="M372.5 246.5H442.5V263.5H372.5Z"/>
<path d="M381.5 246.5H451.5V267.5H381.5Z"/>
<path d="M390.5 246.5H460.5V265.5H390.5Z"/>
<path d="M399.5 246.5H468.5V264.5H399.5Z"/>
<path d="M407.5 246.5H477.5V262.5H407.5Z"/>
<path d="M416.5 246.5H486.5V263.5H416.5Z"/>
<path d="M425.5 246.5H494.5V269.5H425.5Z"/>
<path d="M433.5 246.5H503.5V271.5H433.5Z"/>
<path d="M442.5 246.5H512.5V265.5H442.5Z"/>
<path d="M451.5 246.5H521.5V270.5H451.5Z"/>
<path d="M460.5 246.5H529.5V270.5H460.5Z"/>
<path d="M468.5 246.5H538.5V264.5H468.5Z"/>
<path d="M477.5 246.5H547.5V264.5H477.5Z"/>
<path d="M486.5 246.5H555.5V269.5H486.5Z"/>
<path d="M494.5 246.5H564.5V265.5H494.5Z"/>
<path d="M503.5 246.5H573.5V272.5H503.5Z"/>
<path d="M512.5 246.5H582.5V266.5H512.5Z"/>
<path d="M521.5 246.5H590.5V270.5H521.5Z"/>
<path d="M529.5 246.5H599.5V270.5H529.5Z"/>
<path d="M538.5 246.5H608.5V264.5H538.5Z"/>
<path d="M547.5 246.5H616.5V271.5H547.5Z"/>
<path d="M555.5 246.5H625.5V266.5H555.5Z"/>
<path d="M564.5 246.5H634.5V264.5H564.5Z"/>
<path d="M573.5 246.5H643.5V263.5H573.5Z"/>
<path d="M582.5 246.5H651.5V267.5H582.5Z"/>
<path d="M590.5 246.5H660.5V270.5H590.5Z"/>
<path d="M599.5 246.5H669.5V266.5H599.5Z"/>
<path d="M608.5 246.5H677.5V272.5H608.5Z"/>
<path d="M616.5 246.5H686.5V266.5H616.5Z"/>
<path d="M625.5 246.5H695.5V272.5H625.5Z"/>
<path d="M634.5 246.5H704.5V263.5H634.5Z"/>
<path d="M643.5 246.5H712.5V266.5H643.5Z"/>
<path d="M651.5 246.5H721.5V265.5H651.5Z"/>
<path d="M660.5 246.5H730.5V268.5H660.5Z"/>
<path d="M669.5 246.5H738.5V267.5H669.5Z"/>
<path d="M677.5 246.5H747.5V268.5H677.5Z"/>
<path d="M686.5 246.5H756.5V273.5H686.5Z"/>
<path d="M695.5 246.5H765.5V271.5H695.5Z"/>
<path d="M704.5 246.5H773.5V271.5H704.5Z"/>
<path d="M712.5 246.5H782.5V269.5H712.5Z"/>
<path d="M721.5 246.5H791.5V274.5H721.5Z"/>
<path d="M730.5 246.5H800.5V270.5H730.5Z"/>
<path d="M738.5 246.5H808.5V274.5H738.5Z"/>
<path d="M747.5 246.5H817.5V276.5H747.5Z"/>
<path d="M756.5 246.5H826.5V272.5H756.5Z"/>
<path d="M765.5 246.5H834.5V270.5H765.5Z"/>
<path d="M773.5 246.5H843.5V268.5H773.5Z"/>
<path d="M782.5 246.5H852.5V277.5H782.5Z"/>
<path d="M791.5 246.5H861.5V275.5H791.5Z"/>
<path d="M800.5 246.5H869.5V276.5H800.5Z"/>
<path d="M808.5 246.5H878.5V269.5H808.5Z"/>
<path d="M817.5 246.5H887.5V272.5H817.5Z"/>
<path d="M826.5 246.5H895.5V278.5H826.5Z"/>
<path d="M834.5 246.5H904.5V269.5H834.5Z"/>
<path d="M843.5 246.5H913.5V277.5H843.5Z"/>
<path d="M852.5 246.5H922.5V274.5H852.5Z"/>
<path d="M861.5 246.5H930.5V270.5H861.5Z"/>
<path d="M869.5 246.5H939.5V272.5H869.5Z"/>
<path d="M878.5 246.5H948.5V268.5H878.5Z"/>
<path d="M887.5 246.5H956.5V276.5H887.5Z"/>
<path d="M895.5 246.5H965.5V277.5H895.5Z"/>
<path d="M904.5 246.5H974.5V267.5H904.5Z"/>
<path d="M913.5 246.5H983.5V271.5H913.5Z"/>
<path d="M922.5 246.5H991.5V278.5H922.5Z"/>
<path d="M930.5 246.5H1000.5V270.5H930.5Z"/>
<path d="M939.5 246.5H1009.5V275.5H939.5Z"/>
<path d="M948.5 246.5H1017.5V279.5H948.5Z"/>
<path d="M956.5 246.5H1026.5V275.5H956.5Z"/>
<path d="M965.5 246.5H1035.5V269.5H965.5Z"/>
<path d="M974.5 246.5H1044.5V281.5H974.5Z"/>
<path d="M983.5 246.5H1052.5V278.5H983.5Z"/>
<path d="M991.5 246.5H1061.5V276.5H991.5Z"/>
<path d="M1000.5 246.5H1070.5V273.5H1000.5Z"/>
<path d="M1009.5 246.5H1078.5V276.5H1009.5Z"/>
<path d="M1017.5 246.5H1087.5V274.5H1017.5Z"/>
<path d="M1026.5 246.5H1096.5V270.5H1026.5Z"/>
<path d="M1035.5 246.5H1105.5V270.5H1035.5Z"/>
<path d="M1044.5 246.5H1113.5V269.5H1044.5Z"/>
<path d="M1052.5 246.5H1122.5V271.5H1052.5Z"/>
<path d="M1061.5 246.5H1131.5V272.5H1061.5Z"/>
<path d="M1070.5 246.5H1139.5V278.5H1070.5Z"/>
<path d="M1078.5 246.5H1148.5V277.5H1078.5Z"/>
<path d="M1087.5 246.5H1157.5V277.5H1087.5Z"/>
<path d="M1096.5 246.5H1166.5V280.5H1096.5Z"/>
<path d="M1105.5 246.5H1174.5V270.5H1105.5Z"/>
<path d="M1113.5 246.5H1183.5V274.5H1113.5Z"/>
<path d="M1122.5 246.5H1192.5V269.5H1122.5Z"/>
<path d="M1131.5 246.5H1200.5V274.5H1131.5Z"/>
<path d="M1139.5 246.5H1209.5V269.5H1139.5Z"/>
<path d="M1148.5 246.5H1218.5V269.5H1148.5Z"/>
<path d="M1157.5 246.5H1227.5V270.5H1157.5Z"/>
<path d="M1166.5 246.5H1235.5V274.5H1166.5Z"/>
<path d="M1174.5 246.5H1244.5V279.5H1174.5Z"/>
<path d="M1183.5 246.5H1253.5V272.5H1183.5Z"/>
<path d="M1192.5 246.5H1261.5V279.5H1192.5Z"/>
<path d="M1200.5 246.5H1270.5V271.5H1200.5Z"/>
<path d="M1209.5 246.5H1279.5V272.5H1209.5Z"/>
<path d="M1218.5 246.5H1288.5V275.5H1218.5Z"/>
<path d="M1227.5 246.5H1296.5V269.5H1227.5Z"/>
<path d="M1235.5 246.5H1305.5V274.5H1235.5Z"/>
<path d="M1244.5 246.5H1314.5V276.5H1244.5Z"/>
<path d="M1253.5 246.5H1322.5V280.5H1253.5Z"/>
<path d="M1261.5 246.5H1331.5V269.5H1261.5Z"/>
<path d="M1270.5 246.5H1340.5V279.5H1270.5Z"/>
<path d="M1279.5 246.5H1349.5V276.5H1279.5Z"/>
<path d="M1288.5 246.5H1357.5V276.5H1288.5Z"/>
<path d="M1296.5 246.5H1366.5V269.5H1296.5Z"/>
<path d="M1305.5 246.5H1375.5V281.5H1305.5Z"/>
<path d="M1314.5 246.5H1383.5V272.5H1314.5Z"/>
<path d="M1322.5 246.5H1392.5V276.5H1322.5Z"/>
<path d="M1331.5 246.5H1401.5V276.5H1331.5Z"/>
<path d="M1340.5 246.5H1410.5V281.5H1340.5Z"/>
<path d="M1349.5 246.5H1418.5V276.5H1349.5Z"/>
<path d="M1357.5 246.5H1427.5V282.5H1357.5Z"/>
<path d="M1366.5 246.5H1436.5V271.5H1366.5Z"/>
<path d="M1375.5 246.5H1444.5V277.5H1375.5Z"/>
<path d="M1383.5 246.5H1453.5V276.5H1383.5Z"/>
<path d="M1392.5 246.5H1462.5V275.5H1392.5Z"/>
<path d="M1401.5 246.5H1471.5V277.5H1401.5Z"/>
<path d="M1410.5 246.5H1479.5V275.5H1410.5Z"/>
<path d="M1418.5 246.5H1488.5V272.5H1418.5Z"/>
<path d="M1427.5 246.5H1497.5V277.5H1427.5Z"/>
<path d="M1436.5 246.5H1505.5V269.5H1436.5Z"/>
<path d="M1444.5 246.5H1514.5V274.5H1444.5Z"/>
<path d="M1453.5 246.5H1523.5V274.5H1453.5Z"/>
<path d="M1462.5 246.5H1532.5V271.5H1462.5Z"/>
<path d="M1471.5 246.5H1540.5V275.5H1471.5Z"/>
<path d="M1479.5 246.5H1549.5V277.5H1479.5Z"/>
<path d="M1488.5 246.5H1558.5V269.5H1488.5Z"/>
<path d="M1497.5 246.5H1566.5V271.5H1497.5Z"/>
<path d="M1505.5 246.5H1575.5V267.5H1505.5Z"/>
<path d="M1514.5 246.5H1584.5V274.5H1514.5Z"/>
<path d="M1523.5 246.5H1593.5V267.5H1523.5Z"/>
<path d="M1532.5 246.5H1601.5V269.5H1532.5Z"/>
<path d="M1540.5 246.5H1610.5V272.5H1540.5Z"/>
<path d="M1549.5 246.5H1619.5V272.5H1549.5Z"/>
<path d="M1558.5 246.5H1627.5V266.5H1558.5Z"/>
<path d="M1566.5 246.5H1636.5V277.5H1566.5Z"/>
<path d="M1575.5 246.5H1645.5V268.5H1575.5Z"/>
<path d="M1584.5 246.5H1654.5V273.5H1584.5Z"/>
<path d="M1593.5 246.5H1662.5V268.5H1593.5Z"/>
<path d="M1601.5 246.5H1671.5V272.5H1601.5Z"/>
<path d="M1610.5 246.5H1680.5V269.5H1610.5Z"/>
<path d="M1619.5 246.5H1688.5V268.5H1619.5Z"/>
<path d="M1627.5 246.5H1697.5V270.5H1627.5Z"/>
<path d="M1636.5 246.5H1706.5V271.5H1636.5Z"/>
<path d="M1645.5 246.5H1715.5V271.5H1645.5Z"/>
<path d="M1654.5 246.5H1723.5V271.5H1654.5Z"/>
<path d="M1662.5 246.5H1732.5V266.5H1662.5Z"/>
<path d="M1671.5 246.5H1741.5V264.5H1671.5Z"/>
<path d="M1680.5 246.5H1750.5V265.5H1680.5Z"/>
<path d="M1688.5 246.5H1758.5V265.5H1688.5Z"/>
<path d="M1697.5 246.5H1767.5V268.5H1697.5Z"/>
<path d="M1706.5 246.5H1776.5V265.5H1706.5Z"/>
<path d="M1715.5 246.5H1784.5V263.5H1715.5Z"/>
<path d="M1723.5 246.5H1793.5V261.5H1723.5Z"/>
<path d="M1732.5 246.5H1802.5V265.5H1732.5Z"/>
<path d="M1741.5 246.5H1811.5V260.5H1741.5Z"/>
<path d="M1750.5 246.5H1819.5V263.5H1750.5Z"/>
<path d="M1758.5 246.5H1828.5V263.5H1758.5Z"/>
<path d="M1767.5 246.5H1837.5V262.5H1767.5Z"/>
<path d="M1776.5 246.5H1845.5V258.5H1776.5Z"/>
<path d="M1784.5 246.5H1854.5V259.5H1784.5Z"/>
<path d="M1793.5 246.5H1863.5V262.5H1793.5Z"/>
<path d="M1802.5 246.5H1872.5V256.5H1802.5Z"/>
<path d="M1811.5 246.5H1880.5V259.5H1811.5Z"/>
<path d="M1819.5 246.5H1889.5V257.5H1819.5Z"/>
<path d="M1828.5 246.5H1898.5V257.5H1828.5Z"/>
<path d="M1837.5 246.5H1906.5V255.5H1837.5Z"/>
<path d="M1845.5 246.5H1915.5V253.5H1845.5Z"/>
</g></g>
<path d="M94 246.5H2002" stroke="#808080" stroke-width="2.78" fill="none"/>
<path d="M303 599V72" stroke="#000" stroke-width="2.08" stroke-dasharray="7.71 3.33" fill="none"/>
<path d="M1697 599V72" stroke="#000" stroke-width="2.08" stroke-dasharray="7.71 3.33" fill="none"/>
<path d="M881.5 485.4H922.6" stroke="#87ceeb" stroke-width="2.78" fill="none"/>
<text x="936.83" y="492.2" font-size="20.2" textLength="129.33" lengthAdjust="spacingAndGlyphs">Treatment PS</text>
<path d="M881.5 514.3H922.6" stroke="#ffa500" stroke-width="2.78" fill="none"/>
<text x="936.23" y="520.8" font-size="20.2" textLength="101.73" lengthAdjust="spacingAndGlyphs">Control PS</text>
<path d="M881.5 542.9H922.6" stroke="#808080" stroke-width="2.78" fill="none"/>
<text x="937.21" y="549.4" font-size="20.2" textLength="276.89" lengthAdjust="spacingAndGlyphs">Weighted Pseudo Population</text>
<path d="M881.5 571.5H922.6" stroke="#000" stroke-width="2.78" stroke-dasharray="10.28 4.44" fill="none"/>
<text x="936.47" y="578" font-size="20.2" textLength="112.5" lengthAdjust="spacingAndGlyphs">Extreme PS</text>
<text x="112.78" y="620.2" font-size="20" textLength="30.03" lengthAdjust="spacingAndGlyphs">0.0</text>
<text x="461.76" y="620.2" font-size="20" textLength="29.59" lengthAdjust="spacingAndGlyphs">0.2</text>
<text x="809.96" y="620.2" font-size="20" textLength="30.02" lengthAdjust="spacingAndGlyphs">0.4</text>
<text x="1158.67" y="620.2" font-size="20" textLength="30.21" lengthAdjust="spacingAndGlyphs">0.6</text>
<text x="1507.36" y="620.2" font-size="20" textLength="30.09" lengthAdjust="spacingAndGlyphs">0.8</text>
<text x="1855.61" y="620.2" font-size="20" textLength="29.97" lengthAdjust="spacingAndGlyphs">1.0</text>
<text x="64.8" y="112.79" font-size="20" textLength="23.63" lengthAdjust="spacingAndGlyphs">50</text>
<text x="64.92" y="183.62" font-size="20" textLength="23.57" lengthAdjust="spacingAndGlyphs">25</text>
<text x="77" y="254.45" font-size="20" textLength="11.4" lengthAdjust="spacingAndGlyphs">0</text>
<text x="49.19" y="325.28" font-size="20" textLength="39.39" lengthAdjust="spacingAndGlyphs">−25</text>
<text x="48.77" y="396.11" font-size="20" textLength="39.75" lengthAdjust="spacingAndGlyphs">−50</text>
<text x="49.19" y="466.95" font-size="20" textLength="39.39" lengthAdjust="spacingAndGlyphs">−75</text>
<text x="36.42" y="537.78" font-size="20" textLength="52.09" lengthAdjust="spacingAndGlyphs">−100</text>
<text x="682.16" y="32.1" font-size="29.6" textLength="722.06" lengthAdjust="spacingAndGlyphs">Weighted and Unweighted Draws from the Posterior</text>
<text x="846.93" y="63.9" font-size="29.6" textLength="419.6" lengthAdjust="spacingAndGlyphs">Propensity Scores Distribution</text>
<text x="954.63" y="645.1" font-size="22.3" textLength="185.1" lengthAdjust="spacingAndGlyphs">Propensity Scores</text>
<text x="-1.18" y="0" font-size="22.3" transform="translate(25.7 457.5) rotate(-90)" textLength="243.42" lengthAdjust="spacingAndGlyphs">Counts of Observations</text>
<rect x="94" y="724" width="1252" height="528" fill="#eeeeee"/>
<path d="M140.5 724V1252M406.5 724V1252M672.5 724V1252M938.5 724V1252M1204.5 724V1252M94 1252.5H1346M94 1171.5H1346M94 1090.5H1346M94 1009.5H1346M94 928.5H1346M94 847.5H1346M94 766.5H1346" stroke="#fff" stroke-width="1.1" fill="none"/>
<clipPath id="cbl"><rect x="94" y="724" width="1252" height="528"/></clipPath>
<g clip-path="url(#cbl)" fill="#87ceeb" fill-opacity="0.6" stroke="#000" stroke-opacity="0.6" stroke-width="1.39"><path d="M1226.5 1252.5H1232.5V1227.5H1226.5Z"/><path d="M1232.5 1252.5H1239.5V1203.5H1232.5Z"/><path d="M1239.5 1252.5H1245.5V1053.5H1239.5Z"/><path d="M1245.5 1252.5H1251.5V944.5H1245.5Z"/><path d="M1251.5 1252.5H1258.5V887.5H1251.5Z"/><path d="M1258.5 1252.5H1264.5V883.5H1258.5Z"/><path d="M1264.5 1252.5H1270.5V944.5H1264.5Z"/><path d="M1270.5 1252.5H1277.5V1037.5H1270.5Z"/><path d="M1277.5 1252.5H1283.5V1122.5H1277.5Z"/><path d="M1283.5 1252.5H1289.5V1191.5H1283.5Z"/></g>
<g clip-path="url(#cbl)" fill="#ffa500" fill-opacity="0.6" stroke="#000" stroke-opacity="0.6" stroke-width="1.39"><path d="M151.5 1252.5H156.5V1231.5H151.5Z"/><path d="M156.5 1252.5H162.5V1191.5H156.5Z"/><path d="M162.5 1252.5H168.5V1013.5H162.5Z"/><path d="M168.5 1252.5H174.5V924.5H168.5Z"/><path d="M174.5 1252.5H180.5V750.5H174.5Z"/><path d="M180.5 1252.5H185.5V879.5H180.5Z"/><path d="M185.5 1252.5H191.5V936.5H185.5Z"/><path d="M191.5 1252.5H197.5V1138.5H191.5Z"/><path d="M197.5 1252.5H203.5V1199.5H197.5Z"/><path d="M203.5 1252.5H208.5V1231.5H203.5Z"/></g>
<rect x="1207.5" y="743.5" width="39" height="14" fill="#87ceeb" fill-opacity="0.6" stroke="#000" stroke-opacity="0.6" stroke-width="1.39"/>
<rect x="1207.5" y="772.5" width="39" height="14" fill="#ffa500" fill-opacity="0.6" stroke="#000" stroke-opacity="0.6" stroke-width="1.39"/>
<text x="1262.93" y="757.9" font-size="20.2" textLength="65.53" lengthAdjust="spacingAndGlyphs">E(Y(1))</text>
<text x="1262.92" y="787" font-size="20.2" textLength="65.95" lengthAdjust="spacingAndGlyphs">E(Y(0))</text>
<text x="123.81" y="1272" font-size="20" textLength="29.97" lengthAdjust="spacingAndGlyphs">1.0</text>
<text x="389.89" y="1272" font-size="20" textLength="29.6" lengthAdjust="spacingAndGlyphs">1.5</text>
<text x="656.36" y="1272" font-size="20" textLength="30.14" lengthAdjust="spacingAndGlyphs">2.0</text>
<text x="922.55" y="1272" font-size="20" textLength="29.77" lengthAdjust="spacingAndGlyphs">2.5</text>
<text x="1188.96" y="1272" font-size="20" textLength="29.8" lengthAdjust="spacingAndGlyphs">3.0</text>
<text x="76.6" y="1259.7" font-size="20" textLength="11.4" lengthAdjust="spacingAndGlyphs">0</text>
<text x="64.1" y="1178.8" font-size="20" textLength="23.95" lengthAdjust="spacingAndGlyphs">20</text>
<text x="64.21" y="1097.9" font-size="20" textLength="23.82" lengthAdjust="spacingAndGlyphs">40</text>
<text x="64.01" y="1017" font-size="20" textLength="24.03" lengthAdjust="spacingAndGlyphs">60</text>
<text x="64.14" y="936.1" font-size="20" textLength="23.9" lengthAdjust="spacingAndGlyphs">80</text>
<text x="51.87" y="855.2" font-size="20" textLength="36.18" lengthAdjust="spacingAndGlyphs">100</text>
<text x="51.87" y="774.3" font-size="20" textLength="36.18" lengthAdjust="spacingAndGlyphs">120</text>
<text x="615.91" y="683.3" font-size="29.6" textLength="200.79" lengthAdjust="spacingAndGlyphs">The Outcomes</text>
<text x="447.45" y="716" font-size="29.6" textLength="553.76" lengthAdjust="spacingAndGlyphs">Under the overlap re-weighting scheme</text>
<text x="674.81" y="1297.7" font-size="22.3" textLength="90.34" lengthAdjust="spacingAndGlyphs">outcome</text>
<rect x="1405" y="724" width="597" height="528" fill="#eeeeee"/>
<path d="M1483.5 724V1252M1614.5 724V1252M1746.5 724V1252M1877.5 724V1252M1405 1252.5H2002M1405 1148.5H2002M1405 1044.5H2002M1405 941.5H2002M1405 837.5H2002M1405 734.5H2002" stroke="#fff" stroke-width="1.1" fill="none"/>
<clipPath id="cbr"><rect x="1405" y="724" width="597" height="528"/></clipPath>
<g clip-path="url(#cbr)" fill="#808080" fill-opacity="0.6" stroke="#000" stroke-opacity="0.6" stroke-width="1.39"><path d="M1432.5 1252.5H1486.5V1215.5H1432.5Z"/><path d="M1486.5 1252.5H1540.5V1122.5H1486.5Z"/><path d="M1540.5 1252.5H1595.5V982.5H1540.5Z"/><path d="M1595.5 1252.5H1649.5V817.5H1595.5Z"/><path d="M1649.5 1252.5H1703.5V750.5H1649.5Z"/><path d="M1703.5 1252.5H1757.5V755.5H1703.5Z"/><path d="M1757.5 1252.5H1812.5V843.5H1757.5Z"/><path d="M1812.5 1252.5H1866.5V1060.5H1812.5Z"/><path d="M1866.5 1252.5H1920.5V1148.5H1866.5Z"/><path d="M1920.5 1252.5H1975.5V1236.5H1920.5Z"/></g>
<path d="M1695 1252V724" stroke="#0000ff" stroke-width="2.08" stroke-opacity="0.92" fill="none"/>
<rect x="1866.5" y="743.5" width="39" height="14" fill="#808080" fill-opacity="0.6" stroke="#000" stroke-opacity="0.6" stroke-width="1.39"/>
<path d="M1865.2 778.6H1905.6" stroke="#0000ff" stroke-width="2.08" stroke-opacity="0.92" fill="none"/>
<text x="1921.37" y="757.7" font-size="20.2" textLength="34.19" lengthAdjust="spacingAndGlyphs">ATE</text>
<text x="1920.7" y="786.6" font-size="20.2" textLength="63.91" lengthAdjust="spacingAndGlyphs">E(ATE)</text>
<text x="1461.98" y="1272" font-size="20" textLength="42" lengthAdjust="spacingAndGlyphs">1.95</text>
<text x="1592.57" y="1272" font-size="20" textLength="42.52" lengthAdjust="spacingAndGlyphs">2.00</text>
<text x="1724.58" y="1272" font-size="20" textLength="42.16" lengthAdjust="spacingAndGlyphs">2.05</text>
<text x="1855.62" y="1272" font-size="20" textLength="42.52" lengthAdjust="spacingAndGlyphs">2.10</text>
<text x="1387.6" y="1259.7" font-size="20" textLength="11.4" lengthAdjust="spacingAndGlyphs">0</text>
<text x="1375.1" y="1156.2" font-size="20" textLength="23.95" lengthAdjust="spacingAndGlyphs">20</text>
<text x="1375.21" y="1052.69" font-size="20" textLength="23.82" lengthAdjust="spacingAndGlyphs">40</text>
<text x="1375.01" y="949.19" font-size="20" textLength="24.03" lengthAdjust="spacingAndGlyphs">60</text>
<text x="1375.14" y="845.68" font-size="20" textLength="23.9" lengthAdjust="spacingAndGlyphs">80</text>
<text x="1362.87" y="742.18" font-size="20" textLength="36.18" lengthAdjust="spacingAndGlyphs">100</text>
<text x="1526.44" y="716.6" font-size="29.6" textLength="353.29" lengthAdjust="spacingAndGlyphs">Average Treatment Effect</text>
<text x="1648.04" y="1297.8" font-size="22.3" textLength="109.03" lengthAdjust="spacingAndGlyphs">Difference</text>
</svg></body></html>
